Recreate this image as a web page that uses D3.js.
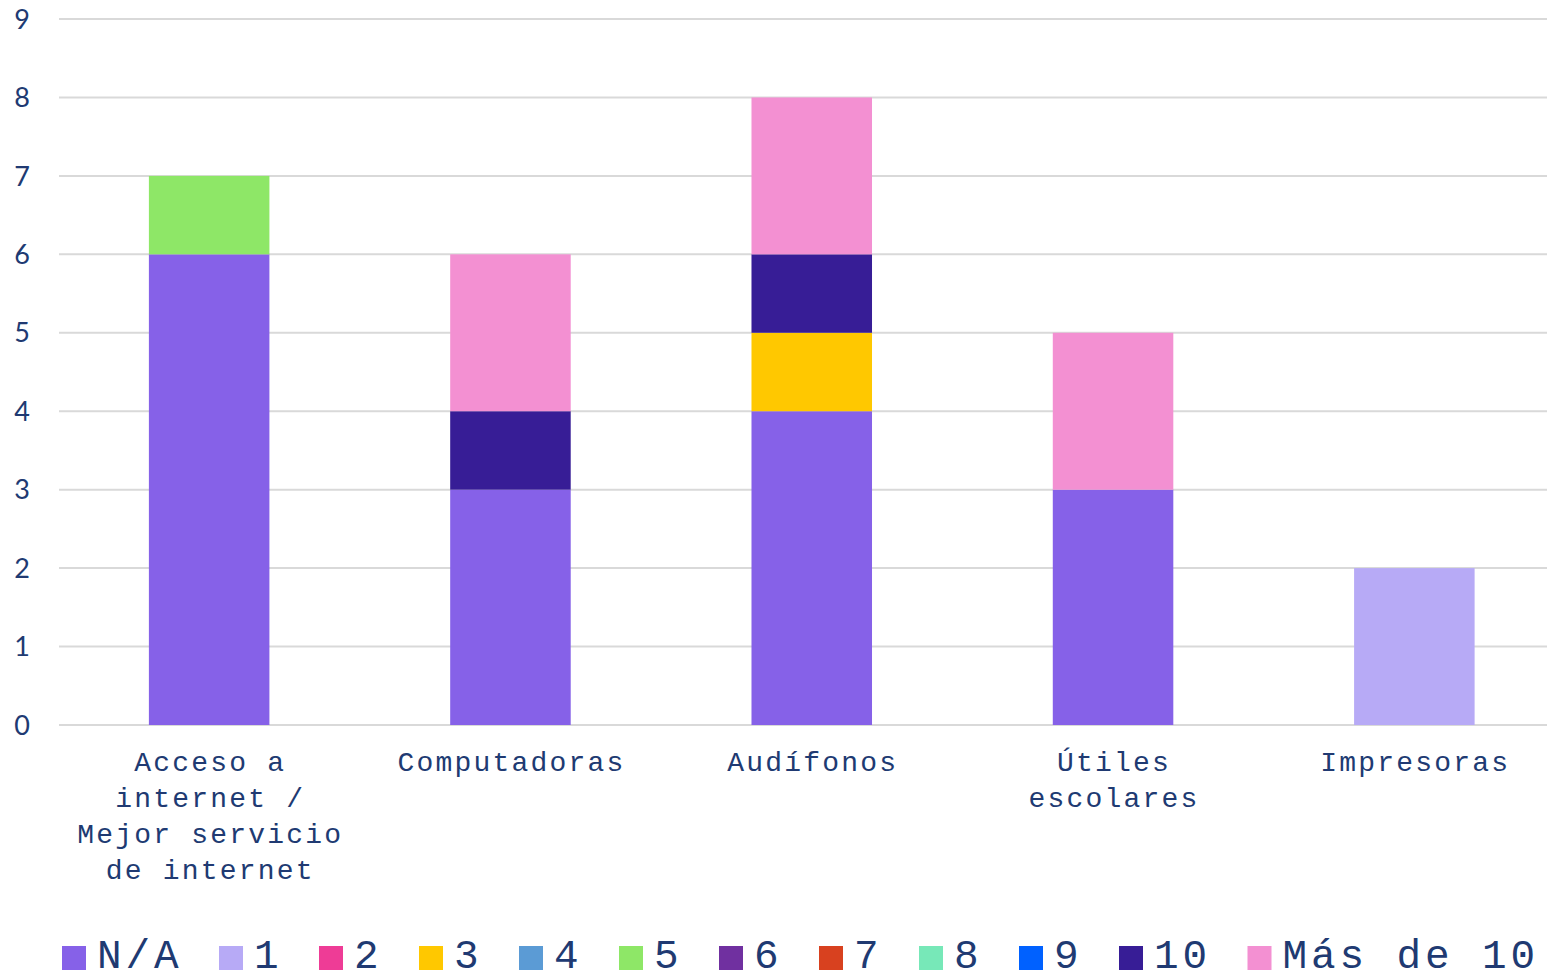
<!DOCTYPE html>
<html><head><meta charset="utf-8">
<script src="https://cdn.jsdelivr.net/npm/d3@7"></script>
<style>body{margin:0;background:#fff}svg{display:block}</style>
</head><body>
<svg id="chart" width="1547" height="975"></svg>
<script>
const categories = [["Acceso a","internet /","Mejor servicio","de internet"],["Computadoras"],["Audífonos"],["Útiles","escolares"],["Impresoras"]];
const categoryKeys = ["Acceso a internet / Mejor servicio de internet","Computadoras","Audífonos","Útiles escolares","Impresoras"];
const seriesNames = ["N/A","1","2","3","4","5","6","7","8","9","10","Más de 10"];
const seriesColors = ["#8661E8","#B7AAF6","#EE3C96","#FFC800","#5B9BD5","#8EE767","#7030A0","#D8411F","#77E8B8","#0061FF","#371D96","#F390D2"];
const vNA   = [6,3,4,3,0];
const v1    = [0,0,0,0,2];
const v2    = [0,0,0,0,0];
const v3    = [0,0,1,0,0];
const v4    = [0,0,0,0,0];
const v5    = [1,0,0,0,0];
const v6    = [0,0,0,0,0];
const v7    = [0,0,0,0,0];
const v8    = [0,0,0,0,0];
const v9    = [0,0,0,0,0];
const v10   = [0,1,1,0,0];
const vMas  = [0,2,2,2,0];
const yTicks = [0,1,2,3,4,5,6,7,8,9];

const seriesValues = [vNA,v1,v2,v3,v4,v5,v6,v7,v8,v9,v10,vMas];
const rows = categoryKeys.map((c,i)=>{const r={cat:c}; seriesNames.forEach((s,j)=>r[s]=seriesValues[j][i]); return r;});
const stack = d3.stack().keys(seriesNames)(rows);

const svg = d3.select("#chart");
const plotLeft=59, plotRight=1547, plotTop=19, plotBottom=725;
const x = d3.scaleBand().domain(categoryKeys).range([58.5,1565]).paddingInner(0.6).paddingOuter(0.3);
const y = d3.scaleLinear().domain([0,9]).range([plotBottom,plotTop]);
const textColor = "#203a72";

// gridlines
svg.append("g").selectAll("line").data(yTicks).join("line")
  .attr("x1",plotLeft).attr("x2",plotRight).attr("y1",d=>y(d)).attr("y2",d=>y(d))
  .attr("stroke","#d9d9d9").attr("stroke-width",2);

// y labels
svg.append("g").selectAll("text").data(yTicks).join("text")
  .attr("x",22).attr("y",d=>y(d)).attr("dy","0.36em").attr("text-anchor","middle")
  .attr("font-family","Lato, 'Noto Sans', sans-serif").attr("font-size",27).attr("fill",textColor)
  .text(d=>d);

// bars
svg.append("g").selectAll("g").data(stack).join("g")
  .attr("fill",(d,i)=>seriesColors[i])
  .selectAll("rect").data(d=>d.filter(p=>p[1]-p[0]>0)).join("rect")
  .attr("x",d=>x(d.data.cat)).attr("width",x.bandwidth())
  .attr("y",d=>y(d[1])).attr("height",d=>y(d[0])-y(d[1]));

// category labels
const cl = svg.append("g").selectAll("text").data(categories).join("text")
  .attr("x",(d,i)=>x(categoryKeys[i])+x.bandwidth()/2+1)
  .attr("text-anchor","middle").attr("font-family","'Liberation Mono', monospace")
  .attr("font-size",28).attr("letter-spacing","2.2px").attr("fill",textColor);
cl.selectAll("tspan").data(d=>d).join("tspan")
  .attr("x",function(){return this.parentNode.getAttribute("x");})
  .attr("y",(d,i)=>771+i*36).text(d=>d);

// legend
const lg = svg.append("g");
let lx = 62;
seriesNames.forEach((s,i)=>{
  lg.append("rect").attr("x",lx).attr("y",946).attr("width",24).attr("height",24).attr("fill",seriesColors[i]);
  const t = lg.append("text").attr("x",lx+35).attr("y",968)
    .attr("font-family","'Liberation Mono', monospace").attr("font-size",41).attr("letter-spacing","3.9px")
    .attr("fill",textColor).text(s);
  lx += 35 + s.length*28.5 + 36.5;
});
</script>
</body></html>
